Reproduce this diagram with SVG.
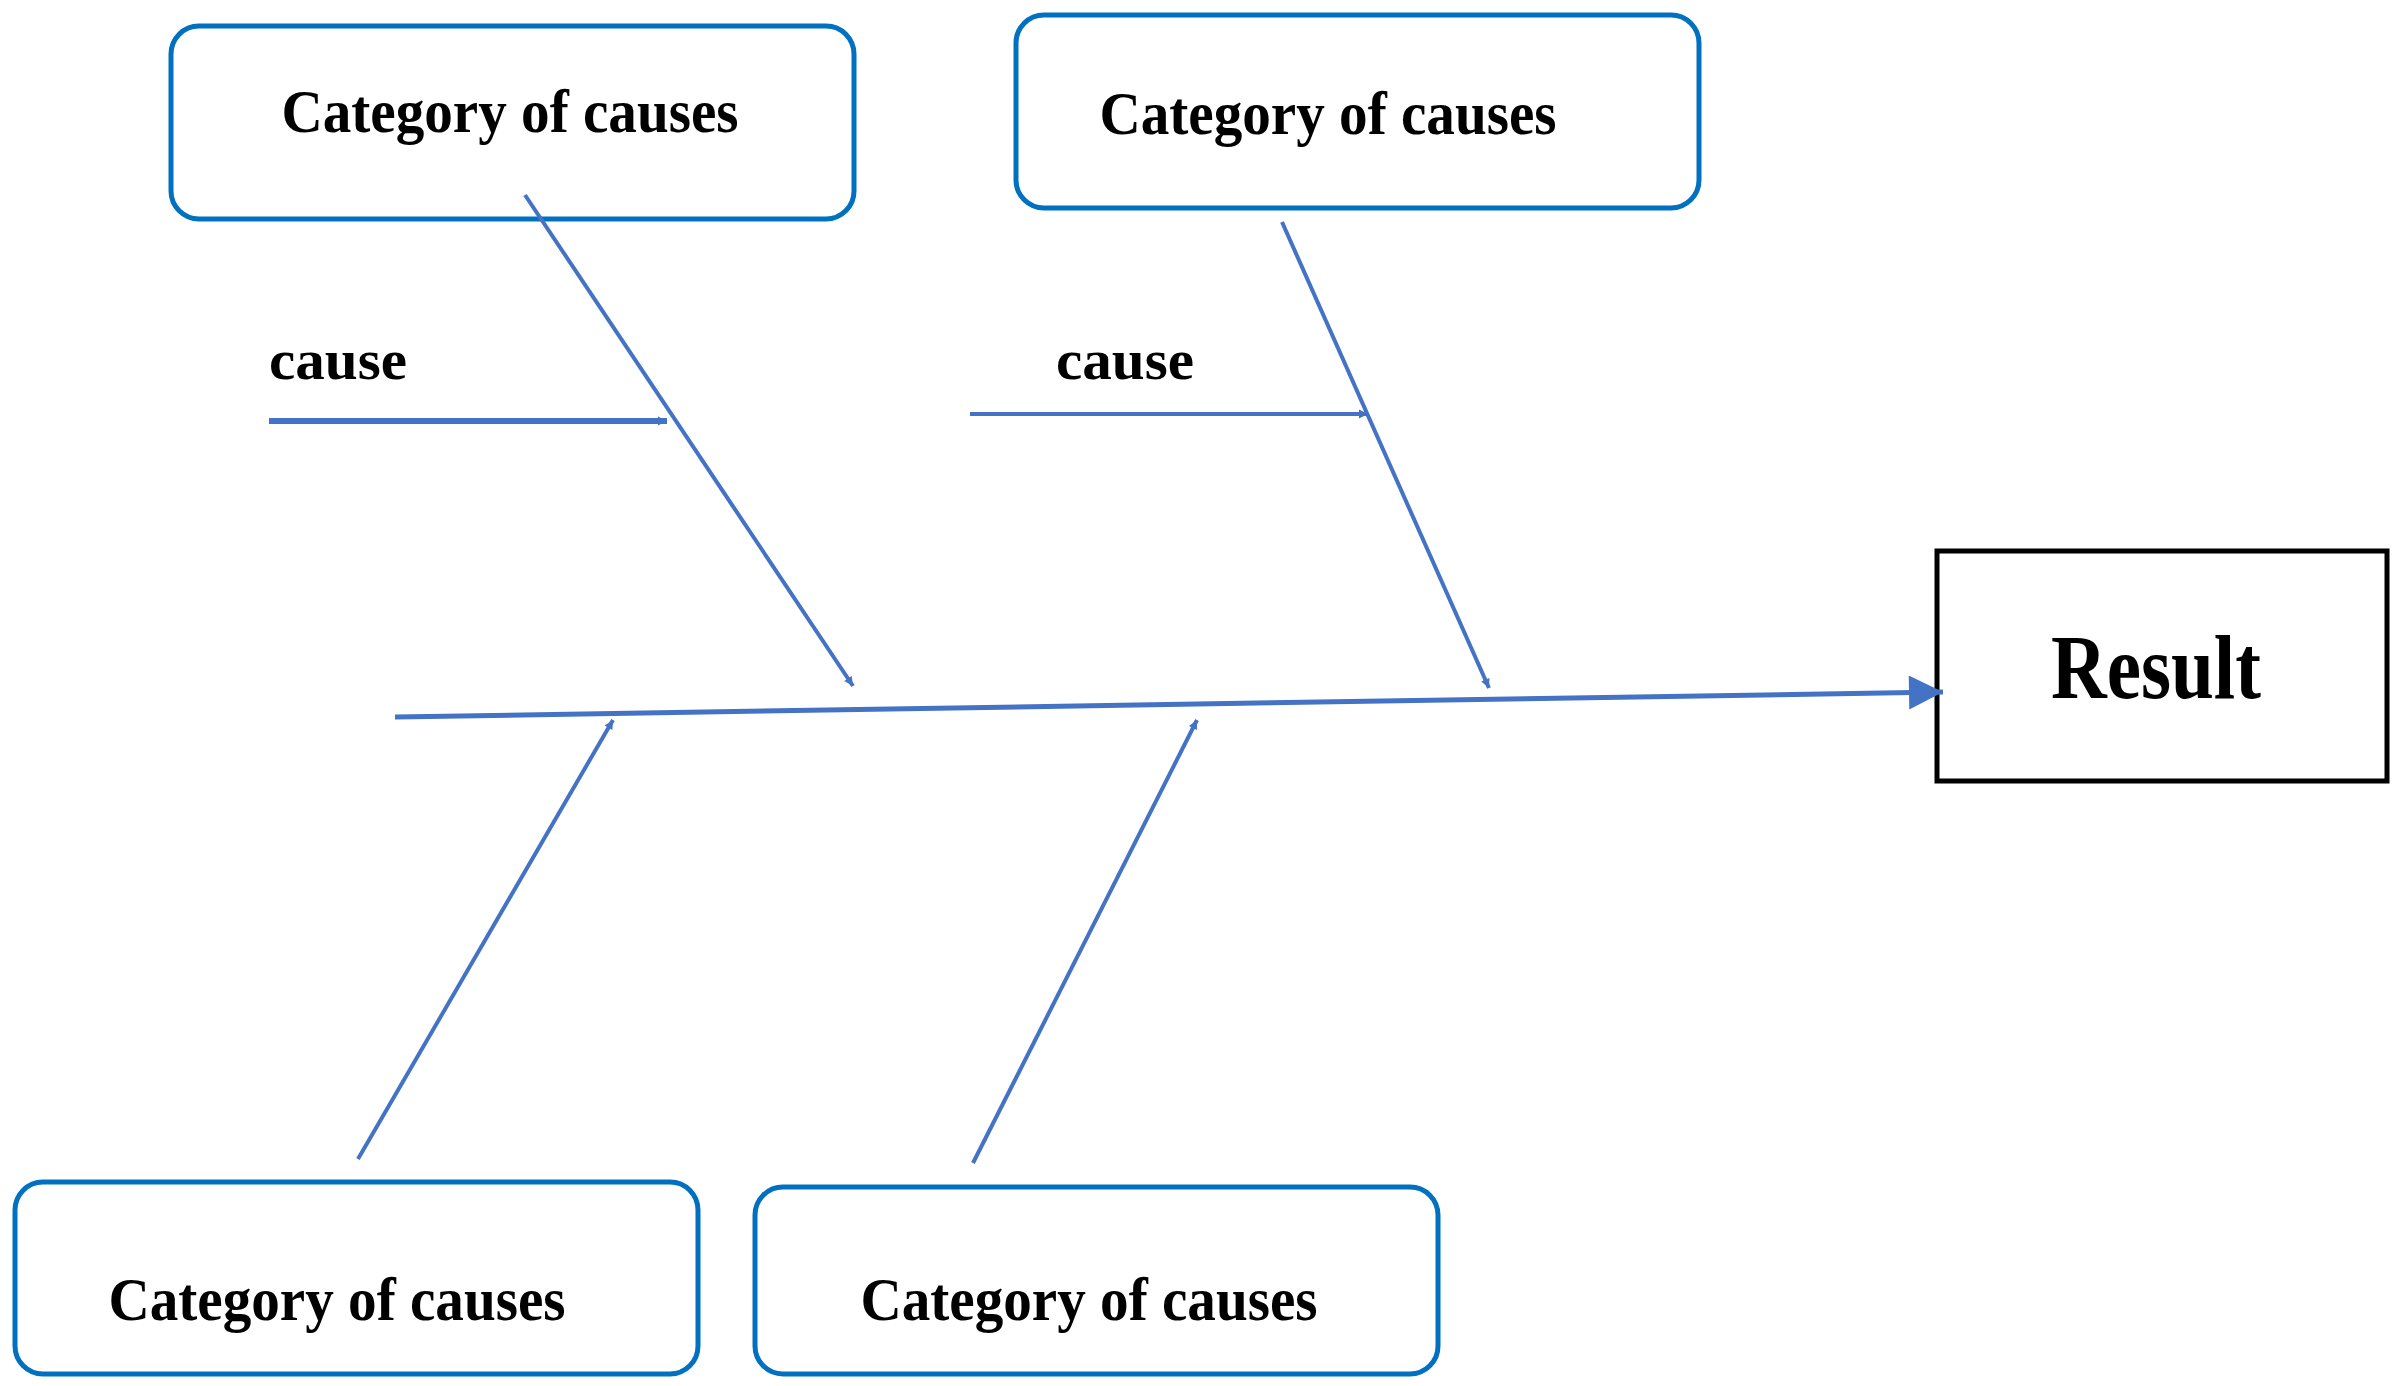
<svg xmlns="http://www.w3.org/2000/svg" width="2394" height="1386" viewBox="0 0 2394 1386">
<style>
.cat rect{fill:#fff;stroke:#0070C0;stroke-width:5}
.cat text{font-family:"Liberation Serif",serif;font-weight:bold;font-size:62px;fill:#000;text-anchor:middle}
.lbl{font-family:"Liberation Serif",serif;font-weight:bold;font-size:58px;fill:#000}
#connectors line{stroke:#4472C4;stroke-width:4;marker-end:url(#ah)}
</style>
<defs>
<marker id="ah" viewBox="0 0 10 10" refX="10" refY="5" markerWidth="9" markerHeight="9" markerUnits="userSpaceOnUse" orient="auto" style="overflow:visible">
<path d="M0,0 L10,5 L0,10 z" fill="#4472C4" transform="scale(1)"/>
</marker>
</defs>
<rect width="2394" height="1386" fill="#fff"/>
<g id="cat1" class="cat"><rect x="171" y="26" width="683" height="193" rx="28"/><text x="510" y="132" textLength="457" lengthAdjust="spacingAndGlyphs">Category of causes</text></g>
<g id="cat2" class="cat"><rect x="1016" y="15" width="683" height="193" rx="28"/><text x="1328" y="134" textLength="457" lengthAdjust="spacingAndGlyphs">Category of causes</text></g>
<g id="cat3" class="cat"><rect x="15" y="1182" width="683" height="192" rx="28"/><text x="337" y="1320" textLength="457" lengthAdjust="spacingAndGlyphs">Category of causes</text></g>
<g id="cat4" class="cat"><rect x="755" y="1187" width="683" height="187" rx="28"/><text x="1089" y="1320" textLength="457" lengthAdjust="spacingAndGlyphs">Category of causes</text></g>
<g id="result"><rect x="1937" y="551" width="450" height="230" fill="#fff" stroke="#000" stroke-width="5"/><text x="2156" y="698" font-family="'Liberation Serif',serif" font-weight="bold" font-size="92" text-anchor="middle" textLength="210" lengthAdjust="spacingAndGlyphs">Result</text></g>
<g id="cause1"><text class="lbl" x="269" y="379" textLength="138" lengthAdjust="spacingAndGlyphs">cause</text></g>
<g id="cause2"><text class="lbl" x="1056" y="379" textLength="138" lengthAdjust="spacingAndGlyphs">cause</text></g>
<g id="connectors">
<line x1="395" y1="717" x2="1943" y2="692" style="stroke-width:5;marker-end:url(#ahL)"/>
<line x1="525" y1="195" x2="853" y2="686"/>
<line x1="1282" y1="222" x2="1489" y2="688"/>
<line x1="358" y1="1159" x2="613" y2="720"/>
<line x1="973" y1="1163" x2="1197" y2="720"/>
<line x1="269" y1="421" x2="667" y2="421" style="stroke-width:6"/>
<line x1="970" y1="414" x2="1368" y2="414"/>
</g>
<defs>
<marker id="ahL" viewBox="0 0 10 10" refX="10" refY="5" markerWidth="38" markerHeight="34" markerUnits="userSpaceOnUse" orient="auto"><path d="M0,0 L10,5 L0,10 z" fill="#4472C4"/></marker>
</defs>
<style>#ah{}</style>
</svg>
